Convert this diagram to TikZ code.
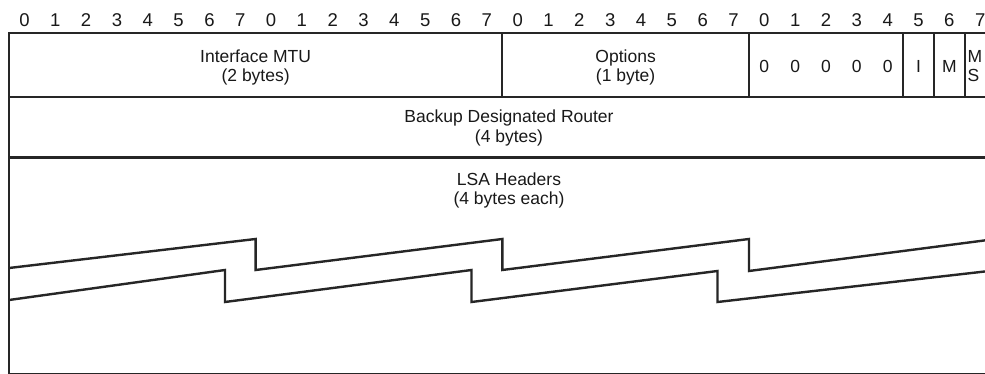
\documentclass[tikz,border=0pt]{standalone}
\usepackage{fontspec}
\setmainfont{Liberation Sans}
\begin{document}
\begin{tikzpicture}[x=1pt,y=-1pt,
  rule/.style={line width=2.4pt, draw=black!85, line join=miter},
  lbl/.style={inner sep=0pt, anchor=base, text=black!90,
    font=\fontsize{17.5}{20}\selectfont},
  bitno/.style={lbl, font=\fontsize{18.5}{20}\selectfont}]
\def\bw{30.83}
\useasboundingbox (0,0) rectangle (985,374);
\clip (0,0) rectangle (985,374);
\fill[white] (0,0) rectangle (985,374);

% bit numbers above the header
\foreach \i in {0,...,31}{
  \pgfmathtruncatemacro{\b}{mod(\i,8)}
  \node[bitno] (bit\i) at ({9+(\i+0.5)*\bw},27) {\b};
}

% outer frame and row separators
\draw[rule] (9,374.6) -- (9,33) -- (1011,33) -- (1011,374.6) -- cycle;
\draw[rule] (9,97) -- (1011,97);
\draw[rule] (9,157.5) -- (1011,157.5);

% field boundaries of the first row
\foreach \b in {16,24,29,30,31}{
  \draw[rule] ({9+\b*\bw},33) -- ({9+\b*\bw},97);
}

% first row labels
\node[lbl] (mtu1) at ({9+8*\bw},63) {Interface MTU};
\node[lbl] (mtu2) at ({9+8*\bw},82) {(2 bytes)};
\node[lbl] (opt1) at ({9+20*\bw},63) {Options};
\node[lbl] (opt2) at ({9+20*\bw},82) {(1 byte)};
\foreach \i in {24,...,28}{
  \node[lbl] (zero\i) at ({9+(\i+0.5)*\bw},72.5) {0};
}
\node[lbl] (ibit) at ({9+29.5*\bw},72.5) {I};
\node[lbl] (mbit) at ({9+30.5*\bw},72.5) {M};
\node[lbl, anchor=base west] (ms1) at (967.5,63) {M};
\node[lbl, anchor=base west] (ms2) at (967.5,82) {S};

% second row
\node[lbl] (bdr1) at (509,123) {Backup Designated Router};
\node[lbl] (bdr2) at (509,142.5) {(4 bytes)};

% third row
\node[lbl] (lsa1) at (509,186) {LSA Headers};
\node[lbl] (lsa2) at (509,205) {(4 bytes each)};

% break marks through the LSA header area
\draw[rule] (9,268) -- (255.6,239) -- (255.6,270) -- (502.3,239) -- (502.3,270)
  -- (749,239) -- (749,271) -- (995.6,239) -- (1011,237);
\draw[rule] (9,300) -- (225,270) -- (225,302) -- (471.5,270) -- (471.5,302)
  -- (717.5,271) -- (717.5,302) -- (1011,268.5);
\end{tikzpicture}
\end{document}
